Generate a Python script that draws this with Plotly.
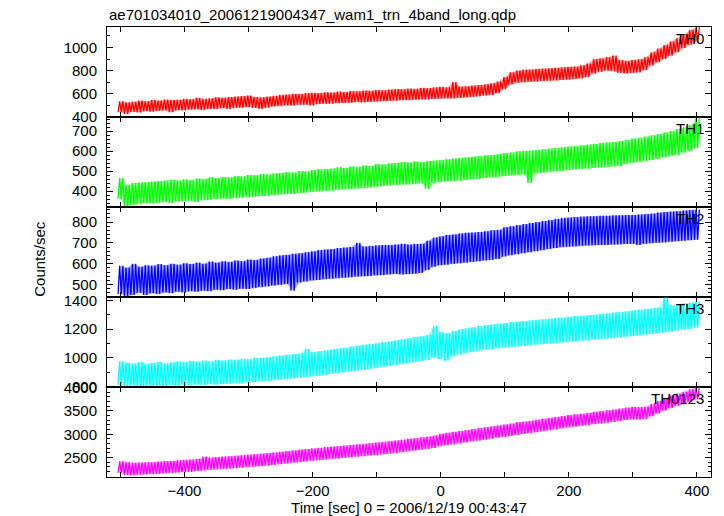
import plotly.graph_objects as go
from plotly.subplots import make_subplots

# ---- data (10-s bins: lower / upper edge of the noisy band) ----
TIME = list(range(-500, 401, 10))

TH0_LO = [440, 425, 445, 438, 450, 445, 452, 455, 440, 458,
          455, 462, 465, 460, 470, 468, 475, 470, 478, 480,
          485, 478, 470, 480, 490, 492, 500, 498, 505, 505,
          500, 512, 515, 515, 520, 520, 522, 528, 525, 530,
          532, 535, 538, 540, 545, 545, 548, 550, 552, 555,
          558, 560, 560, 565, 568, 572, 578, 585, 590, 605,
          640, 680, 695, 700, 705, 705, 710, 712, 715, 720,
          722, 728, 732, 745, 775, 790, 800, 795, 780, 775,
          780, 785, 805, 845, 872, 900, 930, 960, 995, 1025,
          1050]
TH0_HI = [535, 525, 530, 540, 535, 545, 540, 550, 545, 548,
          555, 552, 565, 555, 560, 570, 565, 572, 575, 580,
          585, 572, 568, 575, 582, 590, 592, 600, 598, 605,
          608, 605, 612, 610, 618, 615, 622, 620, 628, 625,
          632, 630, 635, 640, 638, 645, 642, 650, 648, 655,
          660, 655, 700, 662, 665, 670, 675, 682, 690, 705,
          745, 785, 800, 808, 810, 815, 818, 820, 825, 828,
          832, 835, 845, 860, 900, 905, 915, 930, 890, 885,
          892, 898, 915, 958, 990, 1020, 1050, 1080, 1115, 1150,
          1175]

TH1_LO = [360, 320, 330, 335, 340, 338, 342, 345, 340, 348,
          348, 350, 345, 355, 355, 360, 362, 360, 365, 368,
          370, 372, 375, 375, 380, 382, 385, 385, 390, 392,
          395, 398, 400, 402, 405, 408, 410, 412, 415, 418,
          420, 425, 428, 430, 432, 432, 435, 438, 410, 440,
          445, 448, 450, 452, 455, 458, 460, 465, 468, 470,
          475, 478, 480, 482, 440, 488, 490, 495, 498, 500,
          505, 508, 510, 512, 515, 518, 520, 522, 525, 535,
          540, 545, 550, 555, 560, 568, 575, 580, 592, 600,
          615]
TH1_HI = [465, 430, 440, 442, 445, 448, 450, 452, 455, 452,
          458, 455, 462, 460, 468, 465, 470, 468, 475, 472,
          480, 478, 485, 482, 488, 490, 495, 492, 500, 498,
          505, 508, 510, 512, 518, 515, 522, 520, 528, 525,
          535, 532, 538, 540, 545, 542, 548, 545, 550, 552,
          555, 558, 562, 565, 568, 572, 575, 578, 580, 585,
          590, 592, 598, 600, 602, 605, 608, 612, 615, 618,
          622, 625, 628, 632, 635, 640, 642, 645, 650, 655,
          662, 665, 672, 678, 685, 692, 700, 710, 718, 730,
          768]

TH2_LO = [455, 445, 450, 460, 450, 458, 455, 462, 458, 465,
          462, 468, 465, 470, 468, 475, 472, 478, 475, 480,
          478, 485, 488, 492, 495, 498, 502, 470, 510, 515,
          520, 522, 525, 528, 530, 532, 535, 538, 540, 540,
          545, 545, 548, 550, 548, 550, 552, 555, 570, 585,
          592, 595, 600, 602, 605, 608, 612, 615, 618, 622,
          635, 640, 645, 650, 655, 660, 665, 670, 675, 680,
          682, 684, 686, 688, 688, 690, 690, 692, 692, 694,
          694, 690, 696, 698, 700, 702, 705, 708, 710, 712,
          715]
TH2_HI = [590, 580, 600, 585, 592, 590, 598, 592, 600, 595,
          602, 598, 605, 600, 610, 605, 612, 608, 615, 612,
          620, 618, 625, 628, 635, 640, 642, 648, 650, 655,
          660, 665, 668, 670, 675, 678, 680, 700, 682, 685,
          688, 690, 690, 692, 695, 692, 695, 695, 710, 725,
          732, 738, 740, 745, 748, 750, 752, 755, 760, 762,
          775, 780, 785, 790, 795, 800, 805, 810, 815, 820,
          822, 824, 826, 828, 828, 830, 830, 832, 832, 834,
          834, 836, 838, 840, 845, 848, 850, 852, 855, 858,
          860]

TH3_LO = [810, 800, 805, 798, 802, 800, 805, 800, 808, 805,
          810, 808, 812, 810, 815, 812, 818, 815, 822, 820,
          828, 830, 835, 838, 842, 845, 850, 855, 860, 865,
          870, 875, 880, 888, 892, 898, 905, 910, 915, 920,
          928, 935, 940, 948, 955, 962, 970, 975, 985, 1000,
          990, 980, 1010, 1025, 1032, 1040, 1048, 1055, 1060, 1065,
          1070, 1075, 1078, 1082, 1085, 1090, 1095, 1098, 1100, 1105,
          1110, 1112, 1118, 1120, 1125, 1128, 1132, 1135, 1140, 1145,
          1150, 1155, 1160, 1165, 1170, 1175, 1180, 1190, 1195, 1200,
          1210]
TH3_HI = [975, 965, 960, 970, 958, 965, 970, 960, 968, 975,
          970, 978, 972, 980, 975, 985, 980, 988, 985, 992,
          990, 998, 1000, 1005, 1010, 1015, 1020, 1025, 1030, 1060,
          1040, 1045, 1052, 1058, 1065, 1070, 1078, 1085, 1090, 1095,
          1100, 1108, 1115, 1122, 1130, 1135, 1142, 1150, 1160, 1220,
          1180, 1170, 1185, 1198, 1205, 1212, 1220, 1228, 1232, 1238,
          1242, 1248, 1252, 1255, 1260, 1265, 1268, 1272, 1278, 1280,
          1285, 1290, 1292, 1298, 1300, 1305, 1310, 1315, 1318, 1322,
          1328, 1335, 1340, 1345, 1350, 1420, 1365, 1372, 1378, 1385,
          1390]

TH0123_LO = [2170, 2130, 2120, 2135, 2140, 2145, 2150, 2160, 2175, 2180,
             2190, 2195, 2210, 2220, 2240, 2250, 2260, 2265, 2275, 2285,
             2295, 2305, 2315, 2330, 2345, 2360, 2375, 2390, 2405, 2420,
             2435, 2445, 2455, 2470, 2480, 2495, 2505, 2520, 2530, 2545,
             2555, 2570, 2585, 2600, 2615, 2635, 2650, 2670, 2685, 2705,
             2745, 2765, 2785, 2805, 2825, 2845, 2865, 2885, 2905, 2925,
             2945, 2965, 2985, 3005, 3025, 3045, 3065, 3085, 3105, 3125,
             3145, 3160, 3180, 3195, 3215, 3230, 3245, 3265, 3285, 3305,
             3320, 3315, 3325, 3385, 3445, 3505, 3565, 3605, 3645, 3695,
             3745]
TH0123_HI = [2420, 2400, 2390, 2395, 2400, 2400, 2415, 2425, 2430, 2440,
             2450, 2460, 2470, 2520, 2500, 2510, 2520, 2530, 2540, 2550,
             2560, 2570, 2580, 2595, 2610, 2625, 2640, 2655, 2670, 2685,
             2700, 2712, 2725, 2735, 2748, 2760, 2772, 2785, 2795, 2808,
             2820, 2835, 2850, 2865, 2880, 2900, 2915, 2935, 2950, 2970,
             3010, 3030, 3050, 3070, 3090, 3110, 3130, 3150, 3170, 3190,
             3210, 3230, 3260, 3270, 3290, 3310, 3330, 3350, 3370, 3390,
             3410, 3425, 3440, 3460, 3480, 3495, 3515, 3530, 3550, 3570,
             3585, 3580, 3590, 3650, 3710, 3770, 3830, 3870, 3910, 3960,
             4010]

SERIES_NAMES = ["TH0", "TH1", "TH2", "TH3", "TH0123"]
SERIES_LO = [TH0_LO, TH1_LO, TH2_LO, TH3_LO, TH0123_LO]
SERIES_HI = [TH0_HI, TH1_HI, TH2_HI, TH3_HI, TH0123_HI]

X_TICKS = list(range(-500, 401, 100))
X_LABELS = ["", "\u2212400", "", "\u2212200", "", "0", "", "200", "", "400"]

# ---- styling ----
COLORS = ["#ff0000", "#00ff00", "#0000ff", "#00ffff", "#ff00ff"]
HALO = ["rgba(255,0,0,0.35)", "rgba(0,255,0,0.35)", "rgba(0,0,255,0.35)",
        "rgba(0,255,255,0.35)", "rgba(255,0,255,0.35)"]
Y_RANGES = [[399, 1177], [320, 770], [440, 872], [796, 1423], [2085, 4012]]
Y_MAJOR = [200, 100, 100, 200, 500]
Y_MINOR = [100, 20, 20, 100, 100]
FONT = "Liberation Sans, Arial, Helvetica, sans-serif"
OFFSETS = [-3.75, -1.25, 1.25, 3.75]

fig = make_subplots(rows=5, cols=1, shared_xaxes=True, vertical_spacing=0)

for i in range(5):
    lo, hi = SERIES_LO[i], SERIES_HI[i]
    # light error-bar halo
    fig.add_trace(go.Scatter(x=TIME + TIME[::-1], y=hi + lo[::-1], fill="toself",
                             fillcolor=HALO[i], line=dict(width=0), mode="lines",
                             hoverinfo="skip", showlegend=False), row=i + 1, col=1)
    # noisy curve: alternate between lower and upper edge of each bin
    zx, zy = [], []
    for t, a, b in zip(TIME, lo, hi):
        for k, off in enumerate(OFFSETS):
            zx.append(t + off)
            zy.append(a if k % 2 == 0 else b)
    fig.add_trace(go.Scatter(x=zx, y=zy, mode="lines",
                             line=dict(color=COLORS[i], width=1.3),
                             showlegend=False), row=i + 1, col=1)

    fig.update_xaxes(row=i + 1, col=1, range=[-521, 422], tickvals=X_TICKS,
                     ticktext=X_LABELS, ticks="inside", ticklen=5, tickcolor="black",
                     showline=True, linecolor="black", linewidth=1, mirror="ticks",
                     showgrid=False, zeroline=False, automargin=False)
    r0, r1 = Y_RANGES[i]
    fig.update_yaxes(row=i + 1, col=1, range=[r0, r1], dtick=Y_MAJOR[i], tick0=0,
                     ticks="inside", ticklen=6, tickcolor="black",
                     minor=dict(dtick=Y_MINOR[i], tick0=0, ticks="inside", ticklen=3,
                                tickcolor="black", showgrid=False),
                     showline=True, linecolor="black", linewidth=1, mirror="ticks",
                     showgrid=False, zeroline=False, automargin=False,
                     ticklabelstandoff=6)
    fig.add_annotation(text=SERIES_NAMES[i], xref="x domain",
                       yref=("y domain" if i == 0 else f"y{i+1} domain"),
                       x=1, y=1, xanchor="right", yanchor="top", xshift=-5, yshift=-1,
                       showarrow=False, font=dict(family=FONT, size=15, color="black"))

fig.update_xaxes(row=5, col=1, title=dict(text="Time [sec] 0 = 2006/12/19 00:43:47",
                                          standoff=2, font=dict(family=FONT, size=15)))

fig.add_annotation(text="ae701034010_20061219004347_wam1_trn_4band_long.qdp",
                   xref="paper", yref="paper", x=0, y=1, xanchor="left", yanchor="bottom",
                   yshift=2, showarrow=False, font=dict(family=FONT, size=15, color="black"))
fig.add_annotation(text="Counts/sec", xref="paper", yref="paper", x=0, y=0.485,
                   xanchor="center", yanchor="middle", xshift=-67, textangle=-90,
                   showarrow=False, font=dict(family=FONT, size=15, color="black"))

fig.update_layout(width=724, height=516, margin=dict(l=107, r=13, t=27, b=39),
                  paper_bgcolor="white", plot_bgcolor="white",
                  font=dict(family=FONT, size=15, color="black"), showlegend=False)

fig.write_html("out.html", config={"displayModeBar": False},
               post_script="document.body.style.margin='0px';document.body.style.overflow='hidden';")
